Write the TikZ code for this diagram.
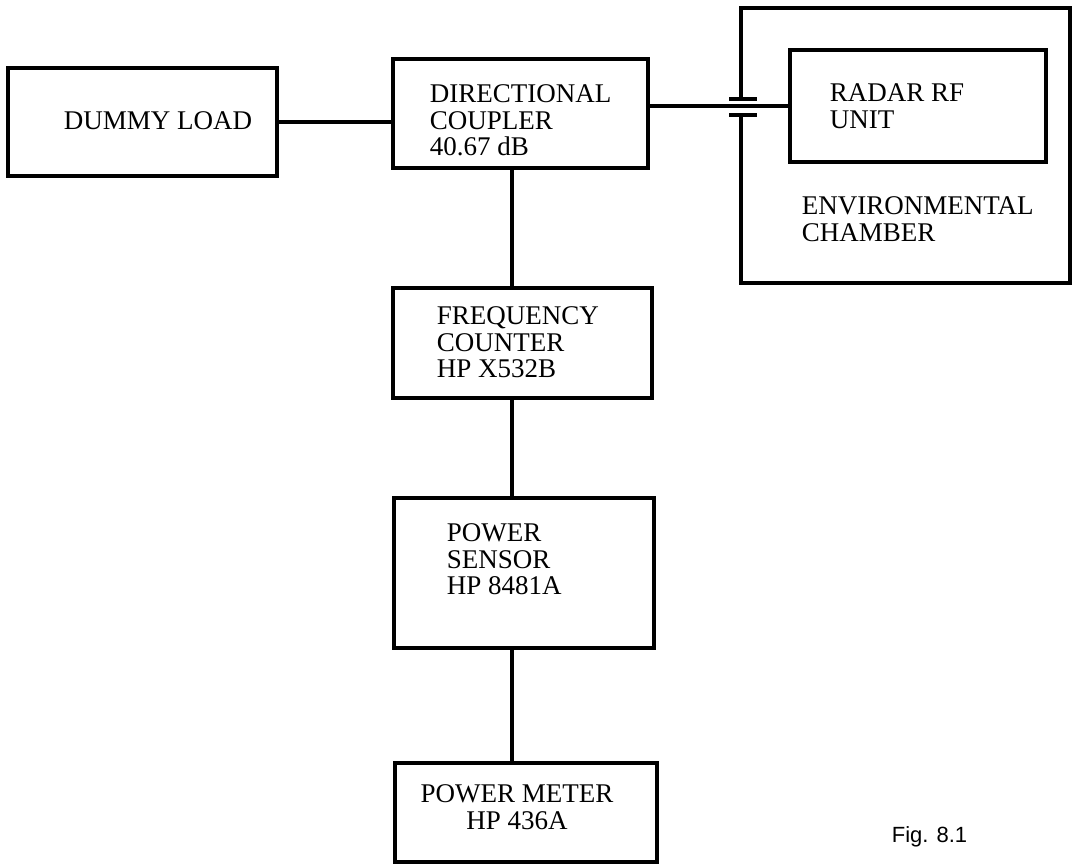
\documentclass[tikz,border=0pt]{standalone}
\usepackage{fontspec}
\setmainfont{Liberation Serif}
\newfontfamily\capfont{Liberation Sans}
\usetikzlibrary{positioning}
\tikzset{
  every picture/.style={line width=3.6pt},
  box/.style 2 args={draw, inner sep=0pt, minimum width=#1, minimum height=#2},
  lbl/.style={font=\fontsize{27}{26.5}\selectfont, align=left, anchor=north west, inner sep=0pt},
  figcap/.style={font=\capfont\fontsize{22}{22}\selectfont, anchor=base west, inner sep=0pt},
}

\begin{document}
\begin{tikzpicture}[x=1pt, y=-1pt]
  \useasboundingbox (0,0) rectangle (1073,865);
  % boxes
  \node[box={269pt}{108pt}] (dl) at (142.5,122) {};
  \node[box={255pt}{109pt}] (dc) at (520.5,113.5) {};
  \node[box={256pt}{112pt}] (rf) at (918,106) {};
  \node[box={259pt}{110pt}] (fc) at (522.5,343) {};
  \node[box={260pt}{150pt}] (ps) at (524,573) {};
  \node[box={262pt}{99pt}] (pm) at (526,812.5) {};
  % chamber wall with feed-through
  \draw (741,99) -- (741,8) -- (1070,8) -- (1070,283) -- (741,283) -- (741,115);
  \draw (729,99) -- (757,99);
  \draw (729,115) -- (757,115);
  % labels
  \node[lbl] (dlt) at (62,110) {DUMMY LOAD};
  \node[lbl] (dct) at (428,83) {DIRECTIONAL\\COUPLER\\40.67 dB};
  \node[lbl] (rft) at (828,82) {RADAR RF\\UNIT};
  \node[lbl] (ect) at (800,195) {ENVIRONMENTAL\\CHAMBER};
  \node[lbl] (fct) at (435,305) {FREQUENCY\\COUNTER\\HP X532B};
  \node[lbl] (pst) at (445,522) {POWER\\SENSOR\\HP 8481A};
  \node[lbl, anchor=north, align=center] (pmt) at (517,783) {POWER METER\\HP 436A};
  \node[figcap] (fig) at (890,842) {Fig. 8.1};
  % connections
  \coordinate (spine) at (512,0);
  \draw (dl.east) -- (dl.east -| dc.west);
  \draw (dc.east |- rf.west) -- (rf.west);
  \draw (dc.south -| spine) -- (fc.north -| spine);
  \draw (fc.south -| spine) -- (ps.north -| spine);
  \draw (ps.south -| spine) -- (pm.north -| spine);
\end{tikzpicture}
\end{document}
